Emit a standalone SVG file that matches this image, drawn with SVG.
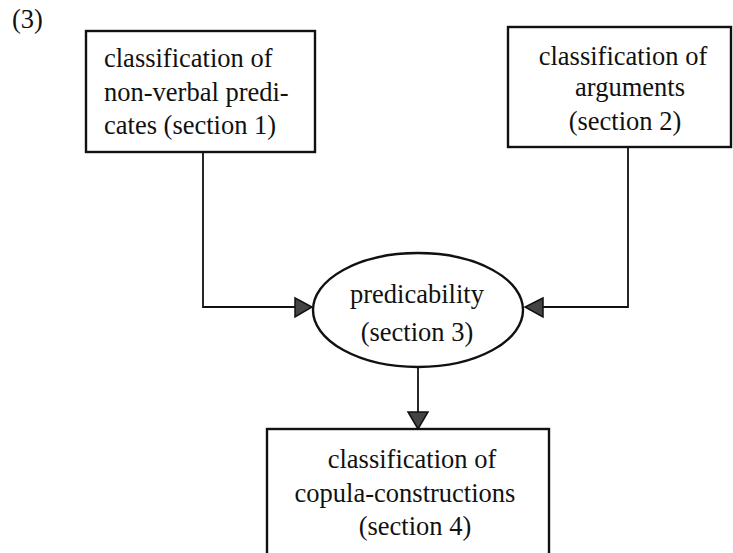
<svg xmlns="http://www.w3.org/2000/svg" width="733" height="553" viewBox="0 0 733 553">
<style>
.box{fill:#fff;stroke:#111;stroke-width:2.4}
.t{font-family:"Liberation Serif","Times New Roman",serif;font-size:26.5px;fill:#111}
.c{text-anchor:middle}
.ln{fill:none;stroke:#111;stroke-width:1.8}
.ah{fill:#444;stroke:#111;stroke-width:1.5}
</style>
<rect width="733" height="553" fill="#fff"/>
<text class="t" x="12" y="28" font-size="26">(3)</text>
<g id="connectors">
<path class="ln" d="M203,152 V307 H295"/>
<path class="ah" d="M295,298 L312,307 L295,317 Z"/>
<path class="ln" d="M628,147 V307 H543"/>
<path class="ah" d="M543,298 L525,307 L543,317 Z"/>
<path class="ln" d="M418,367 V412"/>
<path class="ah" d="M408,412 L428,412 L418,429 Z"/>
</g>
<g id="n1">
<rect class="box" x="86" y="31" width="229" height="121"/>
<text class="t" x="104" y="67">classification of</text>
<text class="t" x="104" y="101">non-verbal predi-</text>
<text class="t" x="104" y="134">cates (section 1)</text>
</g>
<g id="n2">
<rect class="box" x="508" y="27" width="223" height="120"/>
<text class="t c" x="623" y="65">classification of</text>
<text class="t c" x="630" y="96">arguments</text>
<text class="t c" x="625" y="130">(section 2)</text>
</g>
<g id="n3">
<ellipse class="box" cx="418" cy="310" rx="105" ry="57"/>
<text class="t c" x="417" y="303">predicability</text>
<text class="t c" x="417" y="341">(section 3)</text>
</g>
<g id="n4">
<rect class="box" x="267" y="429" width="282" height="130"/>
<text class="t c" x="412" y="468">classification of</text>
<text class="t c" x="405" y="502">copula-constructions</text>
<text class="t c" x="415" y="535">(section 4)</text>
</g>
</svg>
